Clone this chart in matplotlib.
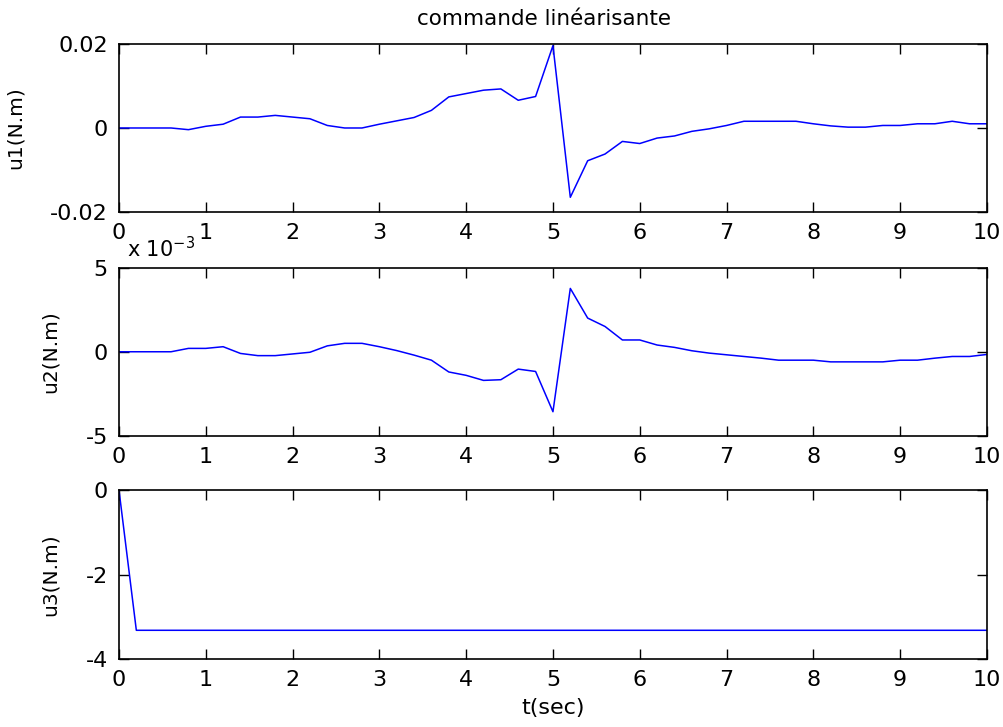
import numpy as np
import matplotlib.pyplot as plt
from matplotlib.ticker import FuncFormatter

# temps d'échantillonnage (pas de 0.2 s)
t = np.round(np.arange(0, 10.01, 0.2), 1)

# commande u1 (N.m)
u1 = [0, 0, 0, 0, -0.0004, 0.0004, 0.0009, 0.0026, 0.0026, 0.003,
      0.0026, 0.0022, 0.0006, 0, 0, 0.0009, 0.0017, 0.0025, 0.0042, 0.0074,
      0.0082, 0.009, 0.0093, 0.0066, 0.0075, 0.0196, -0.0165, -0.0078, -0.0062, -0.0032,
      -0.0037, -0.0024, -0.0019, -0.0008, -0.0002, 0.0006, 0.0016, 0.0016, 0.0016, 0.0016,
      0.001, 0.0005, 0.0002, 0.0002, 0.0006, 0.0006, 0.001, 0.001, 0.0016, 0.001,
      0.001]

# commande u2 (x 1e-3 N.m)
u2_e3 = [0, 0, 0, 0, 0.2, 0.2, 0.3, -0.1, -0.23, -0.23,
         -0.13, -0.03, 0.35, 0.5, 0.5, 0.3, 0.07, -0.2, -0.5, -1.2,
         -1.4, -1.7, -1.66, -1.03, -1.17, -3.56, 3.76, 2.0, 1.5, 0.7,
         0.7, 0.4, 0.26, 0.06, -0.08, -0.18, -0.28, -0.38, -0.5, -0.5,
         -0.5, -0.6, -0.6, -0.6, -0.6, -0.5, -0.5, -0.38, -0.28, -0.28,
         -0.16]
u2 = np.array(u2_e3) * 1e-3

# commande u3 (N.m)
u3 = [0.0] + [-3.32] * (len(t) - 1)

plt.rcParams['font.family'] = 'DejaVu Sans'
plt.rcParams['axes.unicode_minus'] = False

fig = plt.figure(figsize=(10.04, 7.27), dpi=100)
left, width = 0.1185, 0.8645
ax1 = fig.add_axes([left, 0.7084, width, 0.2311])
ax2 = fig.add_axes([left, 0.4003, width, 0.2317])
ax3 = fig.add_axes([left, 0.0935, width, 0.2325])

for ax, y in [(ax1, u1), (ax2, u2), (ax3, u3)]:
    ax.plot(t, y, color='#0000ff', lw=1.1)
    ax.set_xlim(0, 10)
    ax.set_xticks(range(11))
    ax.tick_params(direction='in', length=7, width=1, top=True, right=True,
                   labelsize=16, pad=8, colors='black')
    for s in ax.spines.values():
        s.set_linewidth(1.2)

ax1.set_ylim(-0.02, 0.02)
ax1.set_yticks([-0.02, 0, 0.02])
ax1.yaxis.set_major_formatter(FuncFormatter(lambda v, p: f"{v:g}"))
ax1.set_ylabel('u1(N.m)', fontsize=14.5)
ax1.yaxis.set_label_coords(-0.108, 0.5)
ax1.set_title('commande linéarisante', fontsize=15.5, pad=14, x=0.49)

ax2.set_ylim(-5e-3, 5e-3)
ax2.set_yticks([-5e-3, 0, 5e-3])
ax2.yaxis.set_major_formatter(FuncFormatter(lambda v, p: f"{v * 1e3:g}"))
ax2.set_ylabel('u2(N.m)', fontsize=14.5)
ax2.yaxis.set_label_coords(-0.068, 0.5)
# facteur d'échelle de l'axe u2
ax2.text(0.009, 1.035, r'x 10$^{-3}$', transform=ax2.transAxes, fontsize=15,
         ha='left', va='bottom')

ax3.set_ylim(-4, 0)
ax3.set_yticks([-4, -2, 0])
ax3.set_ylabel('u3(N.m)', fontsize=14.5)
ax3.yaxis.set_label_coords(-0.068, 0.5)
ax3.set_xlabel('t(sec)', fontsize=16, labelpad=6)

fig.savefig('out.png', dpi=100)
